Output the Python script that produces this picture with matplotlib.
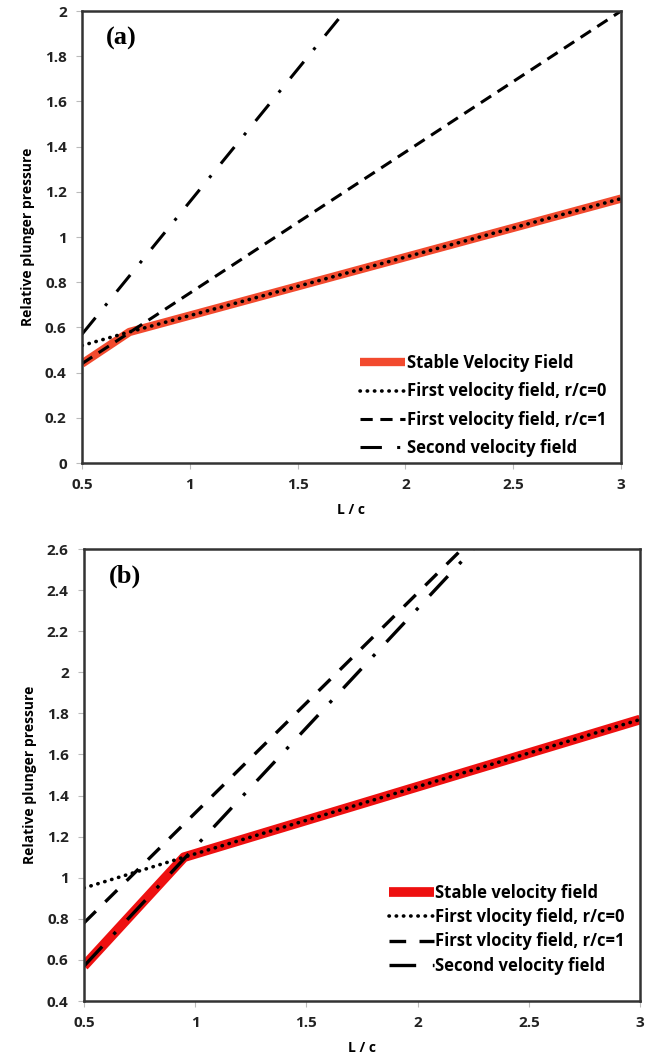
import matplotlib
matplotlib.use("Agg")
import matplotlib.pyplot as plt

# panel (a) data
xa = [0.5, 0.72, 3.0]
stable_a = [0.44, 0.58, 1.17]
first0_a = [0.52, 0.58, 1.17]
xa_lin = [0.5, 3.0]
first1_a = [0.44, 2.0]
xa_sec = [0.5, 1.72]
second_a = [0.57, 2.0]

# panel (b) data
xb = [0.5, 0.95, 3.0]
stable_b = [0.57, 1.10, 1.77]
first0_b = [0.95, 1.10, 1.77]
xb_first1 = [0.5, 2.2]
first1_b = [0.78, 2.6]
xb_sec = [0.5, 2.25]
second_b = [0.57, 2.6]

plt.rcParams['font.family'] = ['Open Sans', 'DejaVu Sans']
plt.rcParams['font.weight'] = 'bold'

fig = plt.figure(figsize=(6.56, 10.64), dpi=100)
ax1 = fig.add_axes([0.125, 0.5648, 0.8216, 0.4248])
ax2 = fig.add_axes([0.128, 0.0592, 0.8476, 0.4248])

DOTS = (0, (0.1, 1.9))


def style(ax, ylim, yticks, tag):
    ax.set_xlim(0.5, 3)
    ax.set_ylim(*ylim)
    ax.set_xticks([0.5, 1, 1.5, 2, 2.5, 3])
    ax.set_xticklabels(['0.5', '1', '1.5', '2', '2.5', '3'])
    ax.set_yticks(yticks)
    ax.set_yticklabels(['%g' % t for t in yticks])
    for s in ax.spines.values():
        s.set_linewidth(1.8)
        s.set_color('#333333')
    ax.tick_params(direction='out', length=4, width=0.8, color='#bbbbbb',
                   labelsize=11, pad=7, top=False, right=False)
    for lab in ax.get_xticklabels() + ax.get_yticklabels():
        lab.set_fontweight('bold')
        lab.set_color('#222222')
    ax.set_xlabel('L / c', fontsize=10, fontweight='bold', labelpad=8)
    ax.set_ylabel('Relative plunger pressure', fontsize=10, fontweight='bold',
                  labelpad=7)
    ax.text(0.045, 0.965, tag, transform=ax.transAxes, fontsize=19,
            fontweight='bold', family='Liberation Serif', va='top')


ax1.plot(xa, stable_a, color='#f24a2e', lw=6, solid_capstyle='butt',
         label='Stable Velocity Field')
ax1.plot(xa, first0_a, color='black', lw=2.6, ls=DOTS,
         dash_capstyle='round', label='First velocity field, r/c=0')
ax1.plot(xa_lin, first1_a, color='black', lw=2.2, ls=(0, (4, 2.5)),
         label='First velocity field, r/c=1')
ax1.plot(xa_sec, second_a, color='black', lw=2.2, ls=(0, (7, 5, 1, 5)),
         label='Second velocity field')
style(ax1, (0, 2), [0, 0.2, 0.4, 0.6, 0.8, 1, 1.2, 1.4, 1.6, 1.8, 2], '(a)')
ax1.legend(loc='lower right', bbox_to_anchor=(1.0, -0.02), frameon=False,
           fontsize=12, handlelength=2.7, handletextpad=0.1, labelspacing=0.62)

ax2.plot(xb, stable_b, color='#ee1010', lw=7, solid_capstyle='butt',
         label='Stable velocity field')
ax2.plot(xb, first0_b, color='black', lw=2.6, ls=DOTS,
         dash_capstyle='round', label='First vlocity field, r/c=0')
ax2.plot(xb_first1, first1_b, color='black', lw=2.4, ls=(0, (5, 4)),
         label='First vlocity field, r/c=1')
ax2.plot(xb_sec, second_b, color='black', lw=2.4, ls=(0, (8, 5, 1, 5)),
         label='Second velocity field')
style(ax2, (0.4, 2.6), [0.4, 0.6, 0.8, 1, 1.2, 1.4, 1.6, 1.8, 2, 2.2, 2.4, 2.6],
      '(b)')
ax2.legend(loc='lower right', bbox_to_anchor=(1.0, 0.025), frameon=False,
           fontsize=12, handlelength=2.7, handletextpad=0.1, labelspacing=0.38)

fig.savefig('out.png', dpi=100)
